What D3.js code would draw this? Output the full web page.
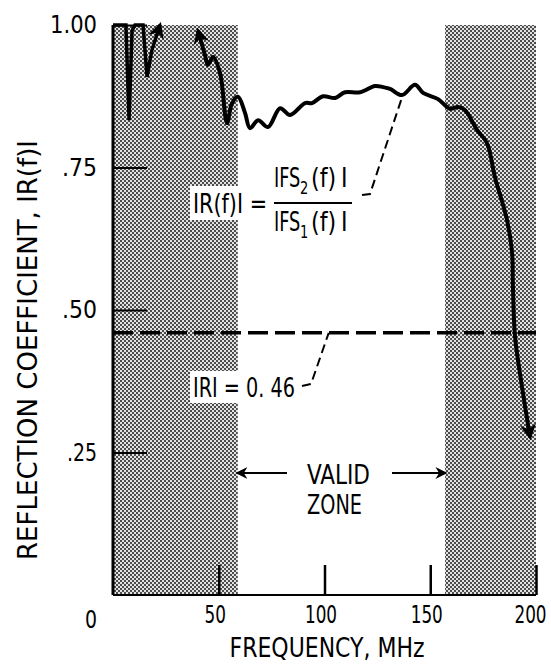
<!DOCTYPE html>
<html>
<head>
<meta charset="utf-8">
<script src="https://cdn.jsdelivr.net/npm/d3@7"></script>
<style>
  body { margin: 0; background: #fff; }
  svg text { font-family: "DejaVu Sans Condensed", "Liberation Sans Narrow", sans-serif; fill: #000; }
</style>
</head>
<body>
<div class="chart-container"></div>
<script>
const width = 551, height = 667;

// spiky part at low frequency (ends with arrow off the top)
const freqA = [0, 6.1, 7.6, 9.0, 10.4, 14.2, 16.1, 18.4, 22.2];
const reflA = [1.0, 1.0, 0.833, 0.99, 1.0, 1.0, 0.909, 0.956, 1.0];

// main trace, starts with arrow from the top, ends with arrow down
const freqB = [40.2, 43.5, 44.9, 47.3, 50.6, 53.9, 56.3, 59.1, 62.4, 64.8, 68.6, 73.3, 79.0, 83.7,
  90.8, 94.1, 99.3, 105.0, 109.7, 116.8, 123.9, 127.7, 131.0, 136.6, 142.8, 146.6, 153.7,
  159.3, 163.1, 166.4, 172.1, 176.8, 180.6, 186.3, 188.7, 189.1, 190.1, 193.4, 197.2];
const reflB = [0.99, 0.947, 0.93, 0.944, 0.916, 0.828, 0.863, 0.874, 0.846, 0.819, 0.833, 0.821, 0.854, 0.842,
  0.863, 0.863, 0.875, 0.872, 0.882, 0.882, 0.893, 0.891, 0.888, 0.877, 0.895, 0.881, 0.870,
  0.853, 0.856, 0.851, 0.816, 0.793, 0.733, 0.658, 0.600, 0.540, 0.453, 0.365, 0.277];

const bandStart = [0, 157];
const bandEnd = [59, 200];
const threshold = 0.46;

const xTicks = [50, 100, 150, 200];
const xTickLabels = ["50", "100", "150", "200"];
const yTicks = [0.25, 0.5, 0.75, 1.0];
const yTickLabels = [".25", ".50", ".75", "1.00"];

var svg = d3.select(".chart-container")
  .append("svg")
  .attr("width", width)
  .attr("height", height);

var x = d3.scaleLinear().domain([0, 200]).range([113, 536]);
var y = d3.scaleLinear().domain([0, 1]).range([595, 25]);

// squeeze text to the narrow lettering of the original
function fit(sel, len) {
  return sel.attr("textLength", len).attr("lengthAdjust", "spacingAndGlyphs");
}
function label(px, py, size, str, len) {
  return fit(svg.append("text").attr("x", px).attr("y", py).attr("font-size", size).text(str), len);
}
// narrow text by scaling horizontally
function squeezed(px, py, size, str, sx) {
  return svg.append("text")
    .attr("transform", "translate(" + px + "," + py + ") scale(" + sx + ",1)")
    .attr("font-size", size).text(str);
}

var defs = svg.append("defs");
// halftone-ish checker fill for the shaded bands
var pat = defs.append("pattern")
  .attr("id", "dots")
  .attr("width", 4).attr("height", 4)
  .attr("patternUnits", "userSpaceOnUse");
pat.append("rect").attr("width", 4).attr("height", 4).attr("fill", "#e2e2e2");
pat.append("rect").attr("width", 2).attr("height", 2).attr("fill", "#4c4c4c");
pat.append("rect").attr("x", 2).attr("y", 2).attr("width", 2).attr("height", 2).attr("fill", "#4c4c4c");

function arrowMarker(id, size) {
  defs.append("marker")
    .attr("id", id)
    .attr("viewBox", "0 0 10 10")
    .attr("refX", 8).attr("refY", 5)
    .attr("markerUnits", "userSpaceOnUse")
    .attr("markerWidth", size).attr("markerHeight", size)
    .attr("orient", "auto-start-reverse")
    .append("path")
    .attr("d", "M0,0 L10,5 L0,10 L3,5 Z")
    .attr("fill", "#000");
}
arrowMarker("bigArrow", 16);
arrowMarker("smallArrow", 12);

// shaded bands
svg.append("g").selectAll("rect")
  .data(bandStart)
  .enter()
  .append("rect")
  .attr("x", (d, i) => x(d))
  .attr("y", y(1))
  .attr("width", (d, i) => x(bandEnd[i]) - x(d))
  .attr("height", y(0) - y(1))
  .attr("fill", "url(#dots)");

// axes, ticks pointing inward
var xAxis = d3.axisBottom(x).tickValues(xTicks).tickSize(-30)
  .tickFormat((d, i) => xTickLabels[i]).tickPadding(14);
var gx = svg.append("g").attr("transform", "translate(0," + y(0) + ")").call(xAxis);
gx.select(".domain").attr("stroke-width", 2).attr("d", "M" + x(0) + ",0H" + x(200));
gx.selectAll(".tick line").attr("stroke-width", 2.5);
gx.selectAll(".tick text").attr("font-size", 24).attr("dy", "0.6em")
  .attr("transform", (d, i) => "translate(" + (i == 3 ? -6 : -4) + ",0) scale(0.78,1)");

var yLabelLen = [30, 35, 35, 47];
var yAxis = d3.axisLeft(y).tickValues(yTicks).tickSize(-34)
  .tickFormat((d, i) => yTickLabels[i]).tickPadding(16);
var gy = svg.append("g").attr("transform", "translate(" + x(0) + ",0)").call(yAxis);
gy.select(".domain").attr("stroke-width", 3).attr("d", "M0," + y(0) + "V" + y(1));
gy.selectAll(".tick line").attr("stroke-width", 2);
gy.selectAll(".tick text").attr("font-size", 24)
  .each(function(d, i) { fit(d3.select(this), yLabelLen[i]); });

label(x(0) - 28, y(0) + 33, 24, "0", 12);

// threshold line
svg.append("line")
  .attr("x1", x(0)).attr("x2", x(200))
  .attr("y1", y(threshold)).attr("y2", y(threshold))
  .attr("stroke", "#000").attr("stroke-width", 3.5)
  .attr("stroke-dasharray", "20,7");

// curves
var line = d3.line().x(d => x(d[0])).y(d => y(d[1]));

svg.append("path")
  .datum(d3.zip(freqA, reflA))
  .attr("d", line)
  .attr("fill", "none").attr("stroke", "#000")
  .attr("stroke-width", 3.5).attr("stroke-linejoin", "miter")
  .attr("marker-end", "url(#bigArrow)");

svg.append("path")
  .datum(d3.zip(freqB, reflB))
  .attr("d", line.curve(d3.curveCatmullRom.alpha(0.5)))
  .attr("fill", "none").attr("stroke", "#000")
  .attr("stroke-width", 4)
  .attr("marker-start", "url(#bigArrow)")
  .attr("marker-end", "url(#bigArrow)");

// annotation: |R(f)| = |FS2(f)| / |FS1(f)|
svg.append("rect").attr("x", 190).attr("y", 186).attr("width", 82).attr("height", 34).attr("fill", "#fff");
label(193, 213, 26, "IR(f)I =", 74);
// numerator and denominator pieces, subscript set lower and smaller
squeezed(274, 187, 26, "IFS", 0.76);
squeezed(300, 194, 17, "2", 0.85);
squeezed(311, 187, 26, "(f)", 0.95);
squeezed(341, 187, 26, "I", 0.95);
svg.append("line").attr("x1", 274).attr("x2", 352).attr("y1", 203).attr("y2", 203)
  .attr("stroke", "#000").attr("stroke-width", 2);
squeezed(274, 231, 26, "IFS", 0.76);
squeezed(300, 238, 17, "1", 0.85);
squeezed(311, 231, 26, "(f)", 0.95);
squeezed(341, 231, 26, "I", 0.95);

svg.append("path")
  .attr("d", d3.line()([[362, 195], [370, 194], [x(137), y(0.877)]]))
  .attr("fill", "none").attr("stroke", "#000").attr("stroke-width", 2)
  .attr("stroke-dasharray", "9,5");

// annotation: |R| = 0.46
svg.append("rect").attr("x", 190).attr("y", 371).attr("width", 108).attr("height", 32).attr("fill", "#fff");
label(193, 397, 26, "IRI = 0. 46", 102);
svg.append("path")
  .attr("d", d3.line()([[302, 386], [311, 384], [x(102), y(threshold)]]))
  .attr("fill", "none").attr("stroke", "#000").attr("stroke-width", 2)
  .attr("stroke-dasharray", "9,5");

// valid zone
label(307, 484, 26, "VALID", 63);
label(307, 514, 26, "ZONE", 55);
svg.append("line")
  .attr("x1", 287).attr("x2", x(bandEnd[0]))
  .attr("y1", 473).attr("y2", 473)
  .attr("stroke", "#000").attr("stroke-width", 2)
  .attr("marker-end", "url(#smallArrow)");
svg.append("line")
  .attr("x1", 392).attr("x2", x(bandStart[1]))
  .attr("y1", 473).attr("y2", 473)
  .attr("stroke", "#000").attr("stroke-width", 2)
  .attr("marker-end", "url(#smallArrow)");

// axis titles
fit(svg.append("text")
  .attr("x", 327).attr("y", 657)
  .attr("text-anchor", "middle")
  .attr("font-size", 26)
  .text("FREQUENCY, MHz"), 195);

fit(svg.append("text")
  .attr("transform", "translate(37,350) rotate(-90)")
  .attr("text-anchor", "middle")
  .attr("font-size", 27)
  .text("REFLECTION COEFFICIENT, IR(f)I"), 420);
</script>
</body>
</html>
